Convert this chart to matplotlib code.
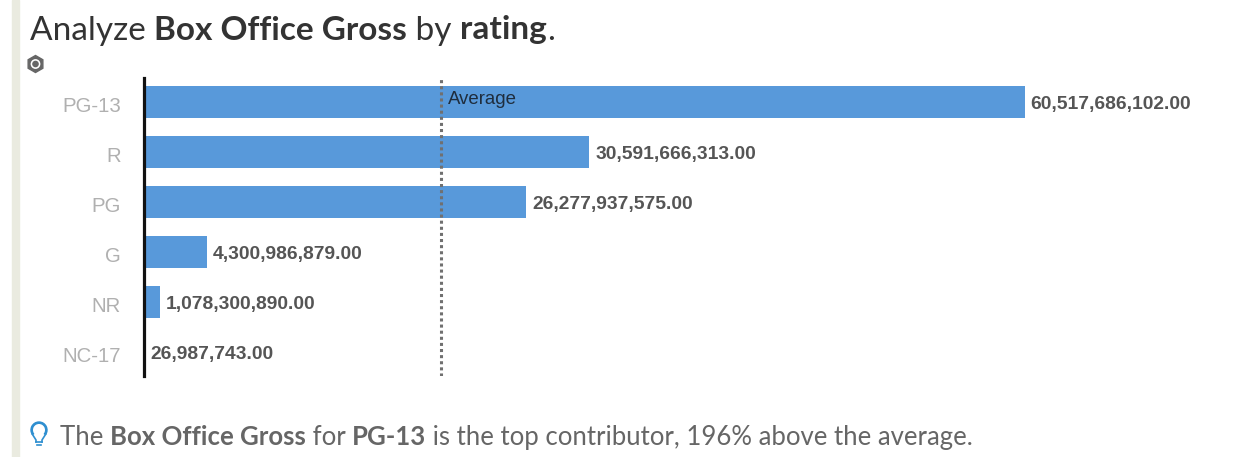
import matplotlib
matplotlib.use("Agg")
import numpy as np
import matplotlib.pyplot as plt
from matplotlib.patches import Rectangle, Circle, RegularPolygon, Wedge
from matplotlib.lines import Line2D

categories = ["PG-13", "R", "PG", "G", "NR", "NC-17"]
gross = [60517686102.00, 30591666313.00, 26277937575.00, 4300986879.00, 1078300890.00, 26987743.00]
average = 20400000000.0
average_label = "Average"
title_parts = [("Analyze ", False), ("Box Office Gross", True), (" by ", False), ("rating", True), (".", False)]
note_parts = [("The ", False), ("Box Office Gross", True), (" for ", False), ("PG-13", True),
              (" is the top contributor, 196% above the average.", False)]

W, H = 1236, 457
plt.rcParams['font.family'] = ['Open Sans', 'DejaVu Sans']
fig = plt.figure(figsize=(W/100, H/100), dpi=100)
fig.patch.set_facecolor('white')

x0, x1 = 144, 1024.5
ax = fig.add_axes([x0/W, 1-376/H, (x1-x0)/W, (376-78)/H])
ax.set_xlim(0, max(gross))
ax.set_ylim(5.48, -0.48)
ax.barh(range(len(gross)), gross, height=0.64, color='#5899DA')
for i, v in enumerate(gross):
    ax.annotate(f"{v:,.2f}", (v, i), xytext=(6, -2), textcoords='offset pixels', va='center', ha='left',
                fontsize=13.9, fontweight='bold', color='#555555', annotation_clip=False,
                family='Liberation Sans')
ax.set_yticks(range(len(gross)), categories, family='Liberation Sans')
ax.tick_params(axis='y', length=0, pad=16.5, labelsize=14.7, labelcolor='#b0b0b0')
for lab in ax.get_yticklabels():
    lab.set_transform(lab.get_transform() + matplotlib.transforms.ScaledTranslation(0, -2/100, fig.dpi_scale_trans))
ax.set_xticks([])
for s in ['top', 'right', 'bottom']:
    ax.spines[s].set_visible(False)
ax.spines['left'].set_linewidth(2.3)
ax.spines['left'].set_color('#111111')
ax.axvline(average, color='#707070', ls=(0, (1, 1.0)), lw=2.2)
ax.annotate(average_label, (average, 0), xytext=(7, 2), textcoords='offset pixels', va='center', ha='left',
            fontsize=13.4, color='#1f2d3d', family='Liberation Sans')

fig.add_artist(Rectangle((12/W, 0), 7/W, 1, transform=fig.transFigure, color='#eaebe0'))

def segments(parts, x, y, size, color):
    r = fig.canvas.get_renderer()
    for s, bold in parts:
        t = fig.text(x/W, 1-y/H, s.replace(" ", "\u00a0"), fontsize=size, color=color, va='baseline',
                     fontweight='bold' if bold else 'normal', family='Lato')
        x += t.get_window_extent(r).width

segments(title_parts, 30, 39.5, 24, '#333333')
segments(note_parts, 60, 445, 18.5, '#666666')

# lightbulb icon
bulb = '#2f8fd0'
fig.add_artist(Wedge((39, H-430), 8, -35, 215, width=1.3, color=bulb, transform=None))
ic = lambda xs, ys: fig.add_artist(Line2D(xs, [H-v for v in ys], color=bulb, lw=1.2, transform=None))
ic([32.5, 36, 36], [434.5, 440, 442])
ic([45.5, 42, 42], [434.5, 440, 442])
ic([36, 42], [442, 442])
ic([37, 41], [445, 445])

# hexagon icon
g = '#666666'
fig.add_artist(RegularPolygon((35.5, H-64), 6, radius=8.5, color=g, transform=None))
fig.add_artist(Circle((35.5, H-64), 4.2, color='white', transform=None))
fig.add_artist(Circle((35.5, H-64), 2.6, color=g, transform=None))

fig.savefig('out.png', dpi=100)
